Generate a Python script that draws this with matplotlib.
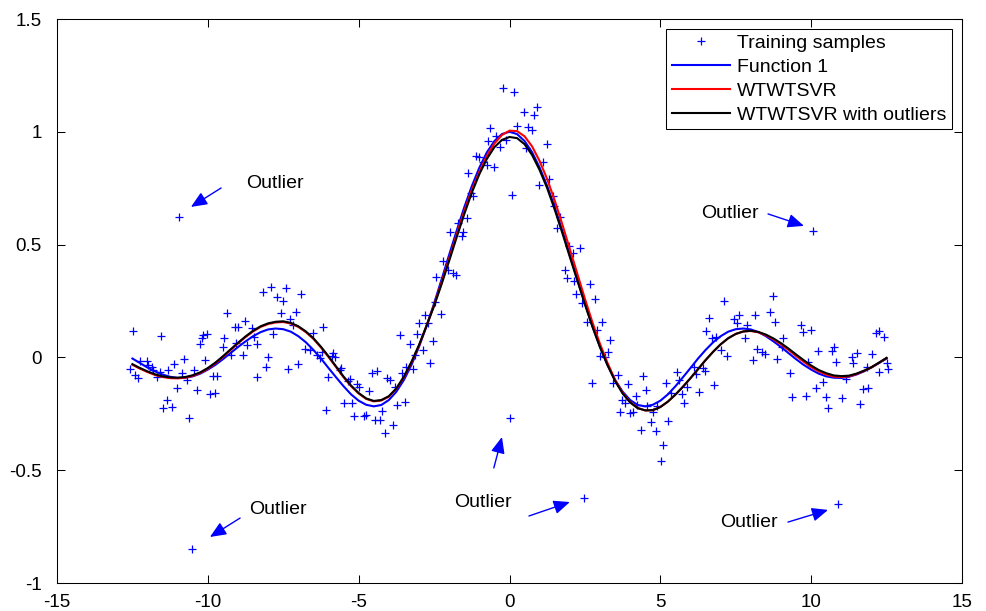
import matplotlib
matplotlib.use("Agg")
import matplotlib.pyplot as plt

plt.rcParams['font.family'] = ['Liberation Sans', 'DejaVu Sans']
plt.rcParams['axes.unicode_minus'] = False

# ---- data ----
curve_x = [-12.5, -12.25, -12, -11.75, -11.5, -11.25, -11, -10.75, -10.5, -10.25, -10, -9.75,
           -9.5, -9.25, -9, -8.75, -8.5, -8.25, -8, -7.75, -7.5, -7.25, -7, -6.75, -6.5, -6.25,
           -6, -5.75, -5.5, -5.25, -5, -4.75, -4.5, -4.25, -4, -3.75, -3.5, -3.25, -3, -2.75,
           -2.5, -2.25, -2, -1.75, -1.5, -1.25, -1, -0.75, -0.5, -0.25, 0, 0.25, 0.5, 0.75, 1,
           1.25, 1.5, 1.75, 2, 2.25, 2.5, 2.75, 3, 3.25, 3.5, 3.75, 4, 4.25, 4.5, 4.75, 5, 5.25,
           5.5, 5.75, 6, 6.25, 6.5, 6.75, 7, 7.25, 7.5, 7.75, 8, 8.25, 8.5, 8.75, 9, 9.25, 9.5,
           9.75, 10, 10.25, 10.5, 10.75, 11, 11.25, 11.5, 11.75, 12, 12.25, 12.5]

function1 = [-0.005, -0.025, -0.045, -0.062, -0.076, -0.086, -0.091, -0.090, -0.084, -0.072,
             -0.054, -0.033, -0.008, 0.019, 0.046, 0.071, 0.094, 0.112, 0.124, 0.128, 0.125,
             0.114, 0.094, 0.067, 0.033, -0.005, -0.047, -0.088, -0.128, -0.164, -0.192, -0.210,
             -0.217, -0.211, -0.189, -0.152, -0.100, -0.033, 0.047, 0.139, 0.239, 0.346, 0.455,
             0.562, 0.665, 0.759, 0.841, 0.909, 0.959, 0.990, 1.000, 0.990, 0.959, 0.909, 0.841,
             0.759, 0.665, 0.562, 0.455, 0.346, 0.239, 0.139, 0.047, -0.033, -0.100, -0.152,
             -0.189, -0.211, -0.217, -0.210, -0.192, -0.164, -0.128, -0.088, -0.047, -0.005,
             0.033, 0.067, 0.094, 0.114, 0.125, 0.128, 0.124, 0.112, 0.094, 0.071, 0.046, 0.019,
             -0.008, -0.033, -0.054, -0.072, -0.084, -0.090, -0.091, -0.086, -0.076, -0.062,
             -0.045, -0.025, -0.005]

wtwtsvr = [-0.033, -0.050, -0.065, -0.078, -0.087, -0.092, -0.093, -0.090, -0.082, -0.069,
           -0.050, -0.026, 0.002, 0.032, 0.062, 0.090, 0.115, 0.135, 0.148, 0.155, 0.157, 0.150,
           0.135, 0.112, 0.082, 0.044, 0.002, -0.043, -0.088, -0.128, -0.160, -0.184, -0.195,
           -0.191, -0.174, -0.139, -0.088, -0.022, 0.052, 0.140, 0.232, 0.333, 0.438, 0.545,
           0.648, 0.742, 0.822, 0.893, 0.948, 0.986, 1.005, 1.003, 0.980, 0.935, 0.870, 0.790,
           0.695, 0.590, 0.480, 0.370, 0.260, 0.155, 0.060, -0.025, -0.100, -0.157, -0.198,
           -0.224, -0.235, -0.234, -0.220, -0.196, -0.165, -0.130, -0.092, -0.052, -0.012,
           0.025, 0.058, 0.085, 0.104, 0.115, 0.117, 0.111, 0.098, 0.080, 0.058, 0.033, 0.006,
           -0.019, -0.043, -0.062, -0.076, -0.085, -0.087, -0.084, -0.074, -0.060, -0.044,
           -0.024, -0.003]

wtwtsvr_outliers = [-0.030, -0.047, -0.062, -0.075, -0.084, -0.089, -0.090, -0.087, -0.079,
                    -0.066, -0.047, -0.023, 0.005, 0.035, 0.065, 0.093, 0.118, 0.138, 0.151,
                    0.158, 0.160, 0.153, 0.138, 0.115, 0.085, 0.047, 0.005, -0.040, -0.085,
                    -0.125, -0.158, -0.182, -0.193, -0.189, -0.172, -0.137, -0.085, -0.020,
                    0.055, 0.140, 0.228, 0.325, 0.428, 0.533, 0.635, 0.730, 0.812, 0.880, 0.932,
                    0.964, 0.977, 0.972, 0.945, 0.897, 0.830, 0.750, 0.655, 0.552, 0.445, 0.340,
                    0.235, 0.135, 0.045, -0.035, -0.105, -0.160, -0.200, -0.225, -0.235, -0.234,
                    -0.220, -0.196, -0.165, -0.130, -0.092, -0.052, -0.012, 0.025, 0.058, 0.085,
                    0.104, 0.115, 0.118, 0.113, 0.101, 0.084, 0.063, 0.039, 0.013, -0.012, -0.036,
                    -0.056, -0.070, -0.080, -0.083, -0.081, -0.072, -0.059, -0.043, -0.023, -0.002]

sample_x = [
    -12.47, -11.55, -12.58, -12.42, -12.30, -12.25, -12.03, -11.97, -11.86, -11.81, -11.70, -11.59,
    -11.31, -11.12, -10.87, -10.79, -11.03, -11.37, -11.48, -11.20, -10.61, -10.70, -10.37, -10.09,
    -10.46, -10.20, -10.26, -10.02, -10.15, -9.84, -9.69, -9.93, -9.76, -9.51, -9.47, -9.35, -9.23,
    -9.10, -8.99, -8.77, -9.07, -8.85, -8.69, -8.55, -8.47, -8.36, -8.36, -8.08, -8.02, -7.85,
    -8.18, -7.92, -7.70, -7.50, -7.42, -7.59, -7.08, -6.92, -7.26, -7.19, -7.33, -7.00, -6.50,
    -6.78, -6.61, -6.39, -6.28,
    -6.17, -6.23, -5.84, -5.79, -5.90, -6.01, -5.62, -5.57, -6.08, -5.35, -5.29, -5.07, -4.98,
    -5.49, -5.23, -5.16, -4.82, -4.76, -4.65, -4.57, -4.38, -4.46, -4.30, -4.24, -4.05, -3.96,
    -3.87, -4.13, -3.80, -3.72, -3.47, -3.63, -3.58, -3.43, -3.30, -3.19, -3.13, -3.06, -2.88,
    -2.99, -2.80, -2.69, -2.55, -2.64, -2.47, -2.28,
    -0.21, 0.15, 0.48, 0.90, 0.82, 0.24, 0.62, 0.73, -0.63, -0.45, -0.70, -0.12, -0.32, 0.55,
    1.23, -1.11, -1.00, -0.89, -0.76, -0.52, -1.37, 1.10, 1.32, 0.99, 0.07, -1.29, -1.20, 1.43,
    1.47, -1.42, -1.70, -1.53, -1.97, -1.59, 1.67, 1.56, 1.98, 2.34, 2.09, -2.22, -2.03, -1.86,
    -1.78, -2.42, 1.84, 1.89,
    2.15, 2.67, 2.22, 2.39, 2.83, 2.56, 3.05, 2.91, 3.33, 3.25, 3.00, 3.16, 2.74, 3.61, 3.44,
    3.94, 4.43, 4.52, 4.19, 3.72, 3.83, 3.66, 3.99, 4.08, 4.24, 4.57, 4.77, 4.90, 4.68, 4.35,
    4.85, 5.26, 5.10, 5.01, 5.19, 5.54, 5.63, 5.37, 5.71, 5.78, 5.87, 6.11, 6.18, 6.42, 6.29,
    6.48, 6.78, 6.62, 6.53, 6.70, 6.84, 7.00,
    7.12, 7.20, 7.44, 7.53, 7.62, 7.86, 7.80, 8.14, 8.06, 8.21, 8.36, 8.47, 8.72, 8.63, 8.80,
    8.88, 9.05, 9.02, 9.30, 9.38, 9.65, 9.74, 9.98, 9.83, 9.90, 10.16, 10.24, 10.40, 10.49,
    10.57, 10.68, 10.75, 10.82, 11.01, 11.17, 11.34, 11.51, 11.40, 11.62, 11.73, 11.89, 12.00,
    11.84, 12.15, 12.26, 12.41, 12.26, 12.56, 12.52,
    -10.96, 10.06, -10.53, 0.00, 2.47, 10.89]

sample_y = [
    0.117, 0.095, -0.053, -0.078, -0.093, -0.014, -0.014, -0.034, -0.041, -0.056, -0.085, -0.063,
    -0.056, -0.029, -0.071, -0.009, -0.134, -0.189, -0.226, -0.221, -0.270, -0.100, -0.144, -0.011,
    -0.056, 0.084, 0.059, 0.104, 0.099, -0.082, -0.082, -0.162, -0.159, 0.045, 0.084, 0.195, 0.011,
    0.133, 0.136, 0.163, 0.065, 0.011, 0.055, 0.129, 0.092, 0.059, -0.085, -0.041, 0.003, 0.104,
    0.291, 0.314, 0.269, 0.251, 0.309, 0.198, 0.203, 0.281, 0.169, 0.144, -0.053, -0.029, 0.110,
    0.036, 0.033, 0.011, -0.004,
    0.136, 0.025, 0.018, 0.003, 0.006, -0.088, -0.056, -0.048, -0.233, -0.103, -0.097, -0.118,
    -0.133, -0.200, -0.200, -0.260, -0.260, -0.255, -0.147, -0.071, -0.060, -0.277, -0.277, -0.236,
    -0.093, -0.100, -0.300, -0.334, -0.133, -0.211, -0.196, 0.099, -0.071, -0.041, 0.059, -0.053,
    0.011, 0.104, 0.033, 0.151, 0.188, 0.154, 0.073, -0.026, 0.247, 0.193,
    1.193, 1.178, 1.086, 1.108, 1.074, 1.026, 1.020, 1.008, 1.015, 0.981, 0.959, 0.964, 0.934,
    0.927, 0.944, 0.893, 0.887, 0.868, 0.853, 0.842, 0.819, 0.868, 0.792, 0.764, 0.720, 0.727,
    0.715, 0.715, 0.671, 0.619, 0.597, 0.557, 0.557, 0.538, 0.621, 0.572, 0.494, 0.483, 0.461,
    0.427, 0.387, 0.373, 0.365, 0.358, 0.387, 0.350,
    0.340, 0.325, 0.281, 0.243, 0.257, 0.158, 0.158, 0.121, 0.077, 0.025, 0.006, 0.000, -0.115,
    -0.078, -0.115, -0.118, -0.082, -0.144, -0.171, -0.189, -0.201, -0.241, -0.248, -0.241,
    -0.211, -0.214, -0.243, -0.214, -0.285, -0.322, -0.325, -0.280, -0.388, -0.458, -0.115,
    -0.063, -0.100, -0.159, -0.162, -0.201, -0.130, -0.044, -0.074, -0.048, -0.152, -0.059,
    -0.122, 0.173, 0.118, 0.084, 0.092, 0.035,
    0.251, 0.006, 0.169, 0.151, 0.188, 0.144, 0.085, 0.188, -0.012, 0.036, 0.025, 0.015, 0.272,
    0.200, 0.158, -0.007, 0.085, 0.048, -0.068, -0.177, 0.144, 0.114, 0.121, -0.171, -0.019,
    -0.137, 0.030, -0.108, -0.177, -0.223, 0.030, 0.048, -0.019, -0.182, -0.097, 0.000, 0.021,
    -0.024, -0.207, -0.142, -0.137, 0.015, -0.044, 0.110, 0.118, 0.092, -0.063, -0.053, -0.023,
    0.622, 0.560, -0.849, -0.270, -0.623, -0.650]

legend_labels = ["Training samples", "Function 1", "WTWTSVR", "WTWTSVR with outliers"]

x_ticks = [-15, -10, -5, 0, 5, 10, 15]
y_ticks = [-1, -0.5, 0, 0.5, 1, 1.5]

# annotation: text positions, arrow tails, arrow heads
annot_text = [(-8.74, 0.773), (6.35, 0.640), (-8.64, -0.676), (-1.84, -0.641), (6.98, -0.730)]
arrow_tails = [(-9.56, 0.751), (8.57, 0.636), (-8.93, -0.712), (-0.52, -0.490), (0.645, -0.703), (9.23, -0.730)]
arrow_heads = [(-10.56, 0.667), (9.76, 0.583), (-9.93, -0.796), (-0.25, -0.353), (2.00, -0.641), (10.56, -0.676)]

# ---- figure ----
fig = plt.figure(figsize=(9.86, 6.11), dpi=100)
ax = fig.add_axes([57/986, 28/611, 905/986, 564/611])

ax.plot(sample_x, sample_y, linestyle='none', marker='+', color=(0, 0, 1),
        ms=5.5, mew=0.9, label=legend_labels[0])
ax.plot(curve_x, function1, color=(0, 0, 1), lw=1.5, label=legend_labels[1])
ax.plot(curve_x, wtwtsvr, color=(1, 0, 0), lw=1.5, label=legend_labels[2])
ax.plot(curve_x, wtwtsvr_outliers, color='black', lw=1.5, label=legend_labels[3])

for (tx, ty) in annot_text:
    ax.text(tx, ty, "Outlier", fontsize=14, ha='left', va='center')
for tail, head in zip(arrow_tails, arrow_heads):
    ax.annotate('', xy=head, xytext=tail,
                arrowprops=dict(arrowstyle='-|>,head_length=0.7,head_width=0.3',
                                color=(0, 0, 1), lw=1.0, shrinkA=0, shrinkB=0,
                                mutation_scale=14))

ax.set_xlim(-15, 15)
ax.set_ylim(-1, 1.5)
ax.set_xticks(x_ticks)
ax.set_yticks(y_ticks)
ax.set_xticklabels([str(t) for t in x_ticks])
ax.set_yticklabels([('%g' % t) for t in y_ticks])
ax.tick_params(direction='in', top=True, right=True, length=6, width=0.75,
               labelsize=13.5)
ax.tick_params(axis='x', pad=8)
ax.tick_params(axis='y', pad=11)
for s in ax.spines.values():
    s.set_linewidth(0.75)

leg = ax.legend(loc='upper right', fontsize=14, numpoints=1, handlelength=3.0,
                handletextpad=0.36, labelspacing=0.32, borderpad=0.3,
                borderaxespad=0.5, fancybox=False, framealpha=1, edgecolor='black')
leg.get_frame().set_linewidth(0.75)

fig.savefig("out.png", dpi=100)
